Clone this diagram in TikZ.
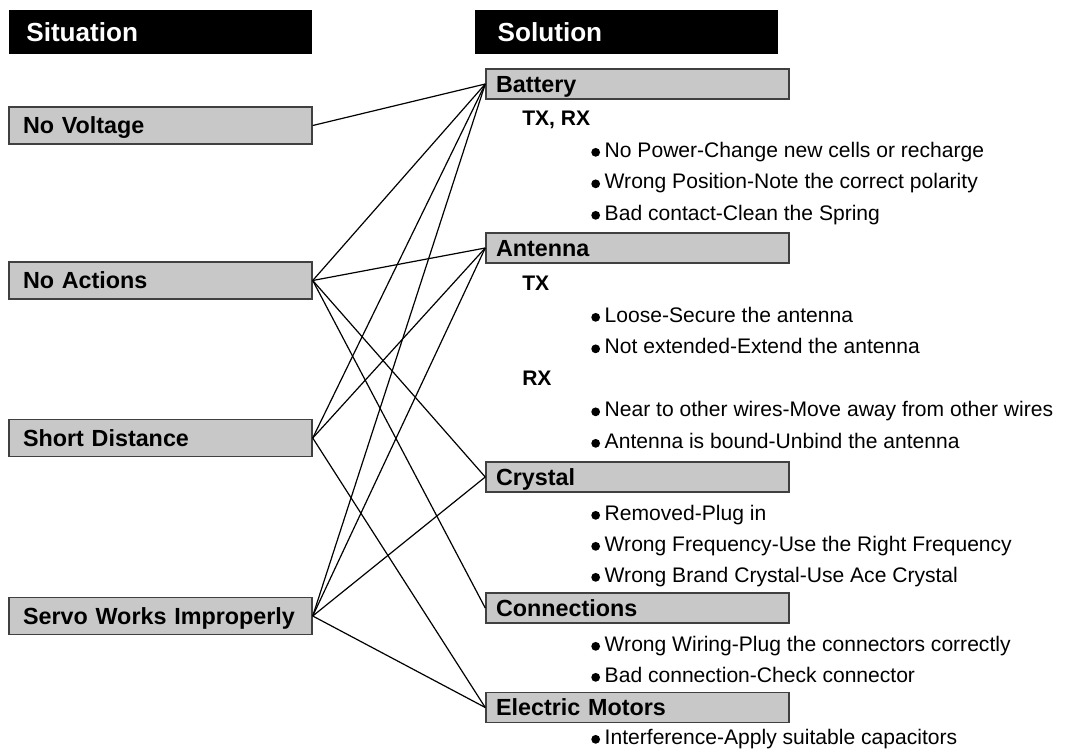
\documentclass[tikz,border=0pt]{standalone}
\usepackage{fontspec}
\setmainfont{Liberation Sans}
\usepackage{tikz}

\definecolor{boxgray}{RGB}{200,200,200}
\definecolor{edgegray}{RGB}{64,64,64}

\newcommand{\bul}{\tikz[baseline=0pt]\fill (3.3pt,3.5pt) circle (3.3pt);\hspace{3.5pt}}

\tikzset{
	headbox/.style={fill=black, text=white, font=\fontsize{19.6}{22}\selectfont\bfseries, align=left, minimum height=33pt, inner ysep=0pt, text height=14pt, text depth=0pt},
	sitbox/.style={fill=boxgray, draw=edgegray, line width=1.1pt, font=\fontsize{17.5}{21}\selectfont\bfseries, align=left, text width=206.25pt, inner xsep=10.5pt, minimum height=27.75pt, inner ysep=0pt, text height=12.5pt, text depth=0pt},
	solbox/.style={sitbox, text width=212.25pt, inner xsep=7.5pt, minimum height=22.5pt},
	sub/.style={anchor=base west, inner sep=0pt, font=\fontsize{15.8}{19}\selectfont\bfseries},
	item/.style={anchor=base west, inner sep=0pt, font=\fontsize{15.8}{19}\selectfont},
	conn/.style={line width=0.9pt}
}

\begin{document}
\begin{tikzpicture}[x=0.75pt, y=-0.75pt]
\useasboundingbox (0,0) rectangle (1067,753);
\node (situation) at (160.5,32) [headbox, inner xsep=13pt, text width=201.25pt] {Situation};
\node (solution) at (626.5,32) [headbox, inner xsep=17pt, text width=193.25pt] {Solution};

\node (novoltage) at (160.5,125.5) [sitbox] {No Voltage};
\node (noactions) at (160.5,280.5) [sitbox] {No Actions};
\node (shortdist) at (160.5,438) [sitbox] {Short Distance};
\node (servo) at (160.5,616) [sitbox] {Servo Works Improperly};

\node (battery) at (637.5,84) [solbox] {Battery};
	\node (battxrx) at (522,125) [sub] {TX, RX};
		\node (bat1) at (591,157) [item] {\bul No Power-Change new cells or recharge};
		\node (bat2) at (591,188.5) [item] {\bul Wrong Position-Note the correct polarity};
		\node (bat3) at (591,220) [item] {\bul Bad contact-Clean the Spring};
\node (antenna) at (637.5,248) [solbox] {Antenna};
	\node (anttx) at (522,290) [sub] {TX};
		\node (ant1) at (591,322) [item] {\bul Loose-Secure the antenna};
		\node (ant2) at (591,353.5) [item] {\bul Not extended-Extend the antenna};
	\node (antrx) at (522,385) [sub] {RX};
		\node (ant3) at (591,416.5) [item] {\bul Near to other wires-Move away from other wires};
		\node (ant4) at (591,448) [item] {\bul Antenna is bound-Unbind the antenna};
\node (crystal) at (637.5,477) [solbox] {Crystal};
		\node (cry1) at (591,520) [item] {\bul Removed-Plug in};
		\node (cry2) at (591,551) [item] {\bul Wrong Frequency-Use the Right Frequency};
		\node (cry3) at (591,582) [item] {\bul Wrong Brand Crystal-Use Ace Crystal};
\node (connections) at (637.5,608) [solbox] {Connections};
		\node (con1) at (591,651) [item] {\bul Wrong Wiring-Plug the connectors correctly};
		\node (con2) at (591,682) [item] {\bul Bad connection-Check connector};
\node (motors) at (637.5,707.5) [solbox] {Electric Motors};
		\node (mot1) at (591,744) [item] {\bul Interference-Apply suitable capacitors};

\draw[conn] (battery.west) edge[-] (novoltage.east) edge[-] (noactions.east) edge[-] (shortdist.east) edge[-] (servo.east);
\draw[conn] (antenna.west) edge[-] (noactions.east) edge[-] (shortdist.east) edge[-] (servo.east);
\draw[conn] (crystal.west) edge[-] (noactions.east) edge[-] (servo.east);
\draw[conn] (connections.west) edge[-] (noactions.east);
\draw[conn] (motors.west) edge[-] (shortdist.east) edge[-] (servo.east);
\end{tikzpicture}
\end{document}
